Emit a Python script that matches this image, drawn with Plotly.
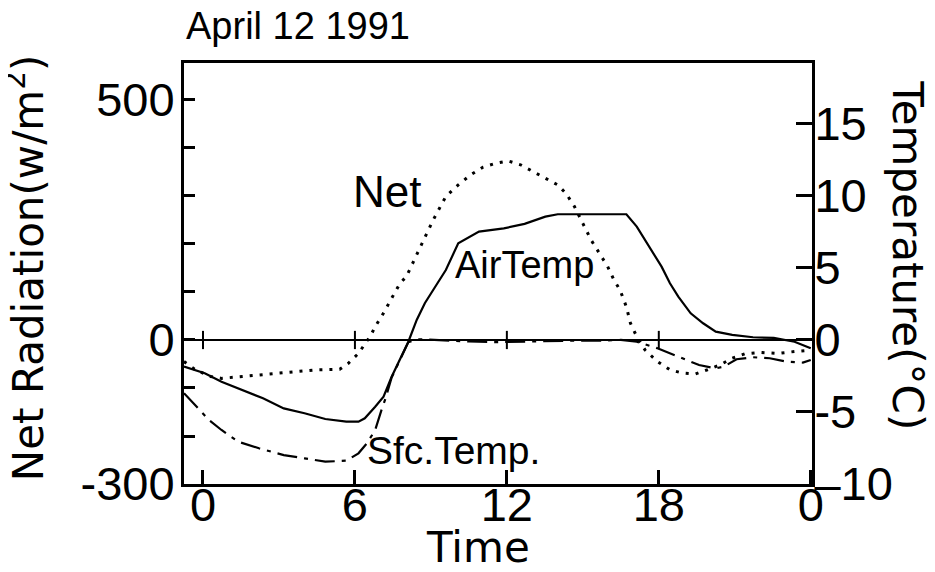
import plotly.graph_objects as go

# ---- data ----
net_hours = [-0.75, -0.3, 0.3, 0.73, 1.55, 3.19, 4.5, 5.4, 5.73, 6.14, 6.63, 6.8, 7.13, 7.45,
             7.78, 8.03, 8.6, 9.09, 9.59, 10.08, 10.57, 11.06, 11.55, 12.05, 12.54, 13.03,
             13.52, 14.01, 14.34, 14.67, 15.0, 15.33, 15.65, 15.98, 16.23, 16.47, 16.72,
             16.88, 17.13, 17.46, 17.95, 18.44, 18.94, 19.43, 19.92, 20.41, 20.9, 21.39,
             22.05, 22.7, 23.36, 24.0]
net_radiation = [-45, -62, -76, -80, -76, -68, -62, -61, -49, -28, 10, 28, 56, 87, 118, 132,
                 194, 250, 299, 323, 344, 360, 368, 373, 365, 351, 337, 323, 305, 278, 243,
                 208, 181, 153, 125, 104, 69, 35, 7, -21, -45, -62, -69, -71, -62, -52, -38,
                 -29, -26, -28, -24, -21]

air_hours = [-0.75, 0.07, 0.73, 1.55, 2.37, 3.19, 4.01, 4.83, 5.66, 6.14, 6.39, 6.8, 7.13,
             7.45, 7.78, 8.11, 8.44, 8.76, 9.09, 9.42, 9.59, 10.08, 10.9, 11.88, 12.7, 13.52,
             14.01, 14.83, 16.72, 17.13, 17.62, 18.11, 18.44, 18.77, 19.26, 19.75, 20.25,
             20.9, 21.72, 22.54, 23.36, 24.0]
air_temp = [-1.85, -2.31, -2.9, -3.47, -4.05, -4.75, -5.09, -5.49, -5.67, -5.67, -5.44, -4.63,
            -3.94, -2.55, -1.39, -0.12, 1.39, 2.55, 3.47, 4.4, 4.86, 6.71, 7.52, 7.75, 8.06,
            8.56, 8.73, 8.73, 8.73, 7.87, 6.48, 5.09, 3.94, 3.01, 1.85, 1.16, 0.58, 0.35,
            0.19, 0.14, -0.12, -0.58]

sfc_hours = [-0.75, -0.25, 0.24, 0.73, 1.39, 2.21, 3.19, 4.01, 4.83, 5.66, 6.14, 6.47, 6.8,
             7.05, 7.21, 7.45, 7.78, 8.11, 8.5, 9.5, 10.5, 11.5, 12.5, 13.5, 14.5, 15.5, 16.5,
             17.13, 17.95, 18.77, 19.59, 20.25, 20.57, 21.07, 21.72, 22.38, 23.03, 23.69, 24.0]
sfc_temp = [-3.7, -4.63, -5.56, -6.25, -7.06, -7.52, -7.99, -8.22, -8.45, -8.38, -7.87, -7.18,
            -6.25, -4.86, -4.05, -2.6, -1.4, -0.15, 0.05, -0.05, -0.1, -0.15, -0.1, -0.05,
            -0.05, -0.05, 0.0, -0.12, -0.58, -1.16, -1.74, -1.97, -1.85, -1.34, -1.2, -1.27,
            -1.5, -1.57, -1.39]

time_ticks = [0, 6, 12, 18, 24]
time_labels = ["0", "6", "12", "18", "0"]
rad_ticks = [-300, -200, -100, 0, 100, 200, 300, 400, 500]
rad_labels = ["-300", "", "", "0", "", "", "", "", "500"]
temp_ticks = [-10, -5, 0, 5, 10, 15]
temp_labels = ["\u201310", "-5", "0", "5", "10", "15"]

BLACK = "#000000"
SANS = "Liberation Sans, Arial, sans-serif"
TICKFONT = dict(family=SANS, size=47, color=BLACK)
TITLEFONT = dict(family="DejaVu Sans, sans-serif", size=42, color=BLACK)

fig = go.Figure()
fig.add_trace(go.Scatter(x=net_hours, y=net_radiation, mode="lines", name="Net",
                         line=dict(color=BLACK, width=3, dash="3px,7px")))
fig.add_trace(go.Scatter(x=air_hours, y=air_temp, mode="lines", name="AirTemp", yaxis="y2",
                         line=dict(color=BLACK, width=2.2)))
fig.add_trace(go.Scatter(x=sfc_hours, y=sfc_temp, mode="lines", name="Sfc.Temp.", yaxis="y2",
                         line=dict(color=BLACK, width=2.2, dash="20px,7px,4px,7px")))

# small crosses on the zero line at the time ticks
for t in time_ticks[:-1]:
    fig.add_shape(type="line", xref="x", yref="y", x0=t, x1=t, y0=-19, y1=19,
                  line=dict(color=BLACK, width=2))

# the page body has an 8px default margin, so the figure is 8px smaller
fig.update_layout(
    width=927, height=564,
    margin=dict(l=176, r=123, t=55, b=88),
    paper_bgcolor="white", plot_bgcolor="white",
    showlegend=False,
    xaxis=dict(range=[-0.75, 24.05], tickvals=time_ticks, ticktext=time_labels,
               ticks="inside", ticklen=14, tickwidth=2.5, tickcolor=BLACK,
               showline=True, linewidth=3, linecolor=BLACK, mirror=True,
               showgrid=False, zeroline=False, tickfont=TICKFONT,
               ticklabelstandoff=-22),
    yaxis=dict(range=[-300, 577], tickvals=rad_ticks, ticktext=rad_labels,
               ticks="inside", ticklen=11, tickwidth=2.5, tickcolor=BLACK,
               showline=True, linewidth=3, linecolor=BLACK,
               showgrid=False, zeroline=True, zerolinecolor=BLACK, zerolinewidth=1.6,
               tickfont=TICKFONT, ticklabelstandoff=-3),
    yaxis2=dict(range=[-10, 19.23], tickvals=temp_ticks, ticktext=temp_labels,
                overlaying="y", side="right",
                ticks="inside", ticklen=16, tickwidth=2.5, tickcolor=BLACK,
                showline=True, linewidth=3, linecolor=BLACK,
                showgrid=False, zeroline=False, tickfont=TICKFONT,
                ticklabelstandoff=-10),
)

annotations = [
    dict(text="April 12 1991", xref="paper", yref="paper", x=0.0, y=1.087,
         xanchor="left", yanchor="middle", showarrow=False,
         font=dict(family=SANS, size=38, color=BLACK)),
    dict(text="Net Radiation(w/m<sup>2</sup>)", xref="paper", yref="paper", x=-0.253, y=0.513,
         textangle=-90, xanchor="center", yanchor="middle", showarrow=False, font=TITLEFONT),
    dict(text="Temperature(°C)", xref="paper", yref="paper", x=1.151, y=0.544,
         textangle=90, xanchor="center", yanchor="middle", showarrow=False, font=TITLEFONT),
    dict(text="Time", xref="paper", yref="paper", x=0.468, y=-0.152,
         xanchor="center", yanchor="middle", showarrow=False, font=TITLEFONT),
    dict(text="Net", xref="x", yref="y", x=7.28, y=310, showarrow=False,
         xanchor="center", yanchor="middle", font=dict(family=SANS, size=44, color=BLACK)),
    dict(text="AirTemp", xref="x", yref="y", x=12.7, y=156, showarrow=False,
         xanchor="center", yanchor="middle", font=dict(family=SANS, size=38, color=BLACK)),
    dict(text="Sfc.Temp.", xref="x", yref="y", x=9.89, y=-231, showarrow=False,
         xanchor="center", yanchor="middle", font=dict(family=SANS, size=39, color=BLACK)),
]
fig.update_layout(annotations=annotations)

fig.write_html("out.html")
